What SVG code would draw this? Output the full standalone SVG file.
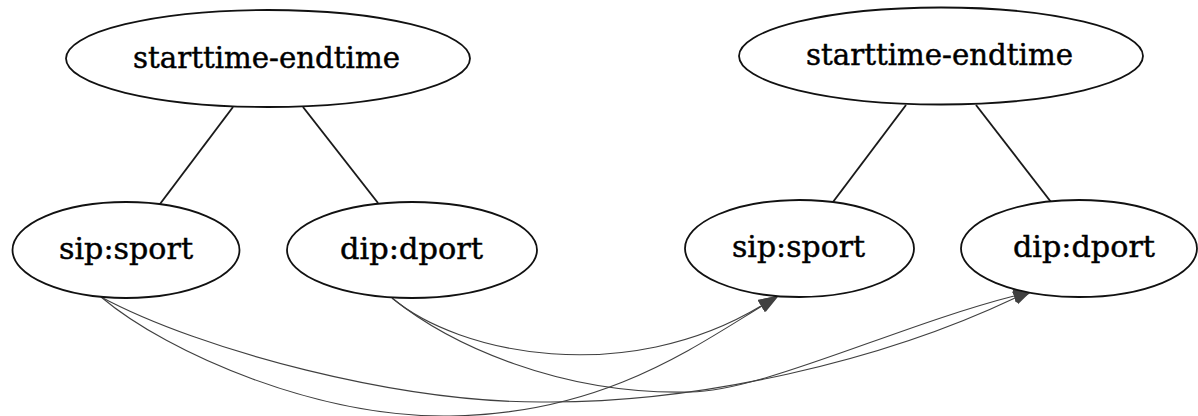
<svg xmlns="http://www.w3.org/2000/svg" width="1198" height="416" viewBox="0 0 1198 416">
<style>
.node ellipse{fill:#ffffff;stroke:#111111;stroke-width:1.8}
.node text{font-family:"DejaVu Serif","Liberation Serif",serif;font-size:30px;fill:#000000;stroke:#000000;stroke-width:0.45;text-anchor:middle}
.tree line{stroke:#1a1a1a;stroke-width:1.9}
.edge{fill:none;stroke:#404040;stroke-width:1.1;marker-end:url(#arrow)}
</style>
<defs>
<marker id="arrow" markerUnits="userSpaceOnUse" markerWidth="22" markerHeight="16" refX="0" refY="7" orient="auto">
<path d="M0,0 L20,7 L0,14 z" fill="#404040"/>
</marker>
</defs>
<rect width="1198" height="416" fill="#ffffff"/>
<g id="connectors">
<g class="tree">
<line x1="233" y1="107" x2="160" y2="204"/>
<line x1="303" y1="107" x2="378" y2="203"/>
<line x1="906" y1="105" x2="833" y2="202"/>
<line x1="976" y1="105" x2="1051" y2="202"/>
</g>
<path class="edge" d="M101,297 C170,355 320,418 450,416 C600,414 690,350 762,306"/>
<path class="edge" d="M101,297 C200,350 400,404 550,402 C700,402 880,362 1015,298"/>
<path class="edge" d="M392,298 C460,355 626,387 761,306"/>
<path class="edge" d="M392,298 C450,345 560,395 690,392 C760,392 900,325 1014,296"/>
</g>
<g id="left_time" class="node">
<ellipse cx="268" cy="58.5" rx="202" ry="48.5"/>
<text x="266.5" y="68" textLength="267" lengthAdjust="spacingAndGlyphs">starttime-endtime</text>
</g>
<g id="left_sip" class="node">
<ellipse cx="126" cy="250" rx="113.5" ry="48"/>
<text x="126" y="259" textLength="134" lengthAdjust="spacingAndGlyphs">sip:sport</text>
</g>
<g id="left_dip" class="node">
<ellipse cx="412" cy="250" rx="125" ry="48"/>
<text x="411.5" y="259" textLength="143" lengthAdjust="spacingAndGlyphs">dip:dport</text>
</g>
<g id="right_time" class="node">
<ellipse cx="941" cy="56" rx="202" ry="48.5"/>
<text x="939.5" y="65" textLength="267" lengthAdjust="spacingAndGlyphs">starttime-endtime</text>
</g>
<g id="right_sip" class="node">
<ellipse cx="799.5" cy="248.5" rx="114.5" ry="48.5"/>
<text x="798.5" y="257" textLength="133" lengthAdjust="spacingAndGlyphs">sip:sport</text>
</g>
<g id="right_dip" class="node">
<ellipse cx="1079" cy="248.5" rx="118" ry="48.5"/>
<text x="1084" y="257" textLength="142" lengthAdjust="spacingAndGlyphs">dip:dport</text>
</g>
</svg>
